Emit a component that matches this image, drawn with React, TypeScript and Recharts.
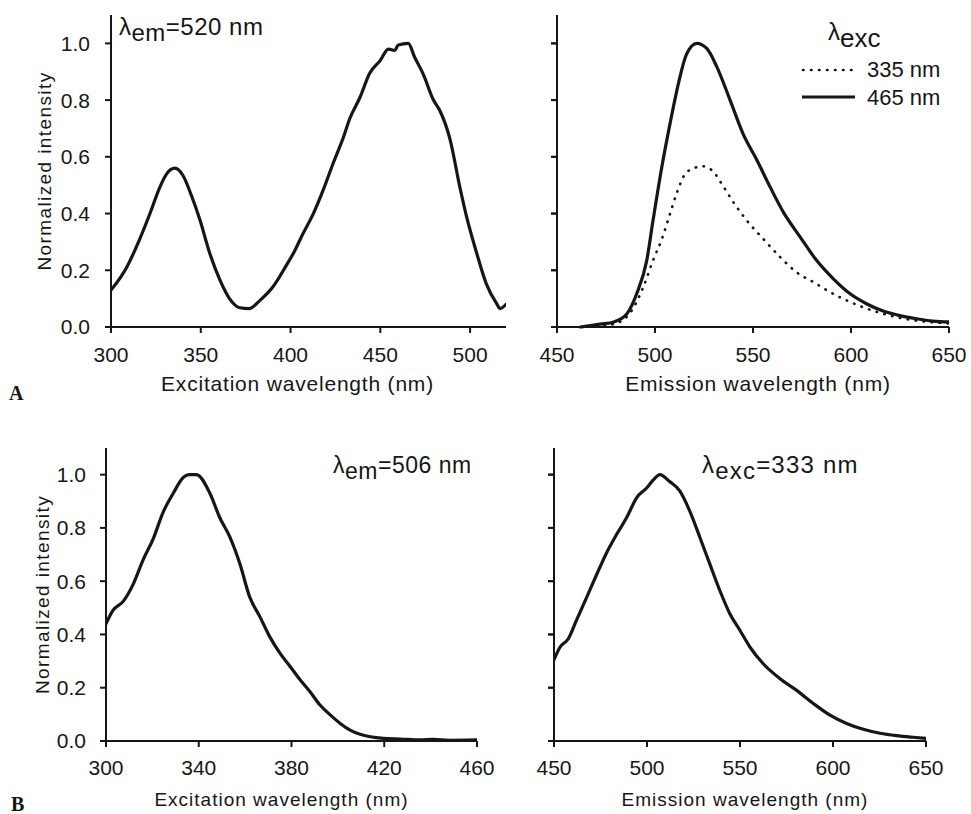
import React from 'react';
import { LineChart, Line, XAxis, YAxis, ReferenceLine } from 'recharts';

const FONT = '"Liberation Sans", Arial, Helvetica, sans-serif';
const SERIF = '"Liberation Serif", "Times New Roman", serif';
const INK = '#161616';

// A, left: excitation spectrum, emission at 520 nm
const excA_nm = [300, 308.7, 316, 321.7, 327, 331, 335.6, 340, 345, 349.6, 355, 360.7, 366, 371.7, 377, 383, 390, 397.9, 401.6, 407, 412.7, 418, 423.9, 429.5, 433, 438.7, 444, 450, 454.5, 458, 460, 465.6, 469, 474, 479.6, 483, 488.9, 494.4, 498, 503.7, 509, 514.8, 516.7, 520];
const excA_int = [0.13, 0.21, 0.31, 0.4, 0.49, 0.54, 0.56, 0.535, 0.46, 0.376, 0.26, 0.165, 0.1, 0.068, 0.065, 0.094, 0.14, 0.22, 0.26, 0.33, 0.4, 0.48, 0.58, 0.67, 0.735, 0.81, 0.894, 0.94, 0.98, 0.975, 0.994, 1.0, 0.953, 0.89, 0.8, 0.765, 0.66, 0.49, 0.39, 0.26, 0.153, 0.082, 0.065, 0.08];

// A, right: emission spectra, excitation at 465 nm and 335 nm
const em465_nm = [462, 472, 479, 485.7, 490.7, 495.8, 499, 503.5, 507.7, 512, 516, 521.3, 526.4, 531.5, 538.3, 545, 551.9, 558.7, 565.4, 574, 582.4, 591, 599.4, 607.9, 616.4, 624.9, 633.4, 641.9, 650];
const em465_int = [0, 0.01, 0.018, 0.047, 0.118, 0.235, 0.376, 0.565, 0.718, 0.86, 0.96, 1.0, 0.982, 0.918, 0.8, 0.68, 0.59, 0.494, 0.406, 0.318, 0.235, 0.17, 0.118, 0.082, 0.056, 0.04, 0.029, 0.021, 0.018];
const em335_nm = [462, 475.5, 482, 487, 494, 499, 503.5, 507.7, 511, 515.4, 519.6, 523.9, 529, 535, 540, 546.8, 555.3, 563.8, 572, 580.7, 589, 597.7, 606, 614.7, 623, 631.7, 640, 650];
const em335_int = [0, 0.006, 0.018, 0.047, 0.14, 0.235, 0.31, 0.4, 0.47, 0.54, 0.559, 0.567, 0.553, 0.494, 0.44, 0.376, 0.31, 0.247, 0.194, 0.159, 0.124, 0.094, 0.07, 0.05, 0.035, 0.024, 0.018, 0.012];

// B, left: excitation spectrum, emission at 506 nm
const excB_nm = [300, 303, 307.5, 311.8, 316, 320.4, 324.7, 329, 333.4, 336, 339, 344.8, 349, 353.4, 357.7, 362, 366.4, 370.7, 375, 379.4, 383.7, 388, 392.3, 396.7, 401, 405.3, 409.6, 414, 419.7, 426.9, 435.5, 441, 448, 460];
const excB_int = [0.44, 0.49, 0.525, 0.59, 0.68, 0.76, 0.86, 0.93, 0.99, 1.0, 1.0, 0.93, 0.84, 0.766, 0.666, 0.54, 0.466, 0.39, 0.33, 0.28, 0.23, 0.185, 0.135, 0.098, 0.066, 0.041, 0.025, 0.016, 0.01, 0.0075, 0.004, 0.006, 0.0025, 0.004];

// B, right: emission spectrum, excitation at 333 nm
const emB_nm = [450, 453.2, 457.7, 462, 467.6, 473, 478.3, 483.7, 489, 494.4, 499.8, 503.4, 507, 512, 517.7, 523, 528.5, 533.8, 539.2, 544.6, 550, 555.4, 562.5, 571.5, 580.5, 589.4, 598.4, 607.3, 616.3, 625.3, 634.2, 643, 650];
const emB_int = [0.305, 0.352, 0.384, 0.452, 0.54, 0.626, 0.707, 0.776, 0.838, 0.913, 0.95, 0.98, 1.0, 0.975, 0.938, 0.863, 0.763, 0.664, 0.564, 0.477, 0.415, 0.352, 0.29, 0.234, 0.19, 0.141, 0.097, 0.066, 0.044, 0.029, 0.02, 0.014, 0.01];

const yTicks = [0, 0.2, 0.4, 0.6, 0.8, 1.0];
const excATicks = [300, 350, 400, 450, 500];
const emTicks = [450, 500, 550, 600, 650];
const excBTicks = [300, 340, 380, 420, 460];

const TICK_LEN = 6;

const zip = (xs: number[], ys: number[]) => xs.map((x, i) => ({ x, y: ys[i] }));

type Series = { data: { x: number; y: number }[]; dotted?: boolean };

type PanelProps = {
  left: number;
  top: number;
  width: number;
  height: number;
  margin: { top: number; right: number; bottom: number; left: number };
  yAxisWidth: number;
  xAxisHeight: number;
  xDomain: [number, number];
  xTicks: number[];
  showYLabels: boolean;
  xTitle: string;
  titleDx: number;
  titleOffset: number;
  titleSize: number;
  titleSpacing: number;
  tickMargin: number;
  yTitleOffset: number;
  series: Series[];
};

function Panel(p: PanelProps) {
  const plotWidth = p.width - p.margin.left - p.margin.right - p.yAxisWidth;
  // length of a y tick mark, expressed in x units so the library places it
  const tickSpan = (TICK_LEN * (p.xDomain[1] - p.xDomain[0])) / plotWidth;
  const yLabel = p.showYLabels
    ? {
        value: 'Normalized intensity',
        angle: -90,
        position: 'insideLeft' as const,
        offset: p.yTitleOffset,
        fill: INK,
        fontSize: 19,
        fontFamily: FONT,
        style: { textAnchor: 'middle' as const, letterSpacing: '1.4px' },
      }
    : undefined;
  return (
    <div style={{ position: 'absolute', left: p.left, top: p.top, width: p.width, height: p.height }}>
      <LineChart width={p.width} height={p.height} margin={p.margin}>
        <XAxis
          type="number"
          dataKey="x"
          domain={p.xDomain}
          ticks={p.xTicks}
          interval={0}
          allowDataOverflow
          height={p.xAxisHeight}
          axisLine={{ stroke: INK, strokeWidth: 2 }}
          tickLine={{ stroke: INK, strokeWidth: 2 }}
          tickSize={TICK_LEN}
          tickMargin={p.tickMargin}
          tick={{ fill: INK, fontSize: 21, fontFamily: FONT }}
          label={{
            value: p.xTitle,
            position: 'insideBottom',
            offset: p.titleOffset,
            dx: p.titleDx,
            fill: INK,
            fontSize: p.titleSize,
            fontFamily: FONT,
            style: { letterSpacing: `${p.titleSpacing}px` },
          }}
        />
        <YAxis
          type="number"
          domain={[0, 1.1]}
          ticks={yTicks}
          interval={0}
          width={p.yAxisWidth}
          axisLine={{ stroke: INK, strokeWidth: 2 }}
          tickLine={{ stroke: INK, strokeWidth: 2 }}
          tickSize={TICK_LEN}
          tickMargin={p.tickMargin + 1}
          tick={{ fill: INK, fontSize: 21, fontFamily: FONT }}
          tickFormatter={(v: number) => (p.showYLabels ? v.toFixed(1) : '')}
          label={yLabel}
        />
        {!p.showYLabels &&
          yTicks.map((t) => (
            <ReferenceLine
              key={`yt-${t}`}
              segment={[
                { x: p.xDomain[0] - tickSpan, y: t },
                { x: p.xDomain[0], y: t },
              ]}
              ifOverflow="visible"
              stroke={INK}
              strokeWidth={2}
            />
          ))}
        {p.series.map((s, i) => (
          <Line
            key={i}
            data={s.data}
            dataKey="y"
            type="monotone"
            stroke={INK}
            strokeWidth={s.dotted ? 2.6 : 3.2}
            strokeDasharray={s.dotted ? '0.5 7.5' : undefined}
            strokeLinecap="round"
            dot={false}
            isAnimationActive={false}
          />
        ))}
      </LineChart>
    </div>
  );
}

export default function App() {
  return (
    <div style={{ position: 'absolute', left: 0, top: 0, width: 971, height: 814, background: '#fff', fontFamily: FONT }}>
      <Panel
        left={0}
        top={0}
        width={520}
        height={400}
        margin={{ top: 15, right: 14, bottom: 0, left: 0 }}
        yAxisWidth={111}
        xAxisHeight={73}
        xDomain={[300, 520]}
        xTicks={excATicks}
        showYLabels
        xTitle="Excitation wavelength (nm)"
        titleDx={-11}
        titleOffset={9}
        titleSize={21}
        titleSpacing={0.8}
        tickMargin={14}
        yTitleOffset={44}
        series={[{ data: zip(excA_nm, excA_int) }]}
      />
      <Panel
        left={480}
        top={0}
        width={491}
        height={400}
        margin={{ top: 15, right: 22, bottom: 0, left: 0 }}
        yAxisWidth={77}
        xAxisHeight={73}
        xDomain={[450, 650]}
        xTicks={emTicks}
        showYLabels={false}
        xTitle="Emission wavelength (nm)"
        titleDx={5}
        titleOffset={9}
        titleSize={21}
        titleSpacing={0.8}
        tickMargin={14}
        yTitleOffset={0}
        series={[{ data: zip(em335_nm, em335_int), dotted: true }, { data: zip(em465_nm, em465_int) }]}
      />
      <Panel
        left={0}
        top={410}
        width={520}
        height={400}
        margin={{ top: 38, right: 43, bottom: 0, left: 0 }}
        yAxisWidth={106}
        xAxisHeight={69}
        xDomain={[300, 460]}
        xTicks={excBTicks}
        showYLabels
        xTitle="Excitation wavelength (nm)"
        titleDx={-10}
        titleOffset={4}
        titleSize={19}
        titleSpacing={1}
        tickMargin={13}
        yTitleOffset={42}
        series={[{ data: zip(excB_nm, excB_int) }]}
      />
      <Panel
        left={480}
        top={410}
        width={491}
        height={400}
        margin={{ top: 38, right: 45, bottom: 0, left: 0 }}
        yAxisWidth={74}
        xAxisHeight={69}
        xDomain={[450, 650]}
        xTicks={emTicks}
        showYLabels={false}
        xTitle="Emission wavelength (nm)"
        titleDx={5}
        titleOffset={4}
        titleSize={19}
        titleSpacing={1}
        tickMargin={13}
        yTitleOffset={0}
        series={[{ data: zip(emB_nm, emB_int) }]}
      />

      {/* annotations, legend and panel letters */}
      <svg width={971} height={814} style={{ position: 'absolute', left: 0, top: 0, pointerEvents: 'none' }}>
        <g fill={INK} fontFamily={FONT}>
          <text x={119} y={35} fontSize={24} letterSpacing={0.5}>
            λ<tspan dy={6}>em</tspan>
            <tspan dy={-6}>=520 nm</tspan>
          </text>
          <text x={333} y={473} fontSize={23} letterSpacing={0.5}>
            λ<tspan dy={6}>em</tspan>
            <tspan dy={-6}>=506 nm</tspan>
          </text>
          <text x={702} y={473} fontSize={24} letterSpacing={1.2}>
            λ<tspan dy={6}>exc</tspan>
            <tspan dy={-6}>=333 nm</tspan>
          </text>

          <text x={828} y={40} fontSize={24}>
            λ<tspan dy={7} fontSize={26}>exc</tspan>
          </text>
          <text x={867} y={77} fontSize={22}>335 nm</text>
          <text x={867} y={105} fontSize={22}>465 nm</text>

          <text x={9} y={400} fontFamily={SERIF} fontWeight="bold" fontSize={20}>A</text>
          <text x={11} y={811} fontFamily={SERIF} fontWeight="bold" fontSize={20}>B</text>
        </g>
        <line x1={803} y1={70} x2={855} y2={70} stroke={INK} strokeWidth={2.6} strokeDasharray="0.5 7.5" strokeLinecap="round" />
        <line x1={802} y1={97} x2={855} y2={97} stroke={INK} strokeWidth={3.2} />
      </svg>
    </div>
  );
}
